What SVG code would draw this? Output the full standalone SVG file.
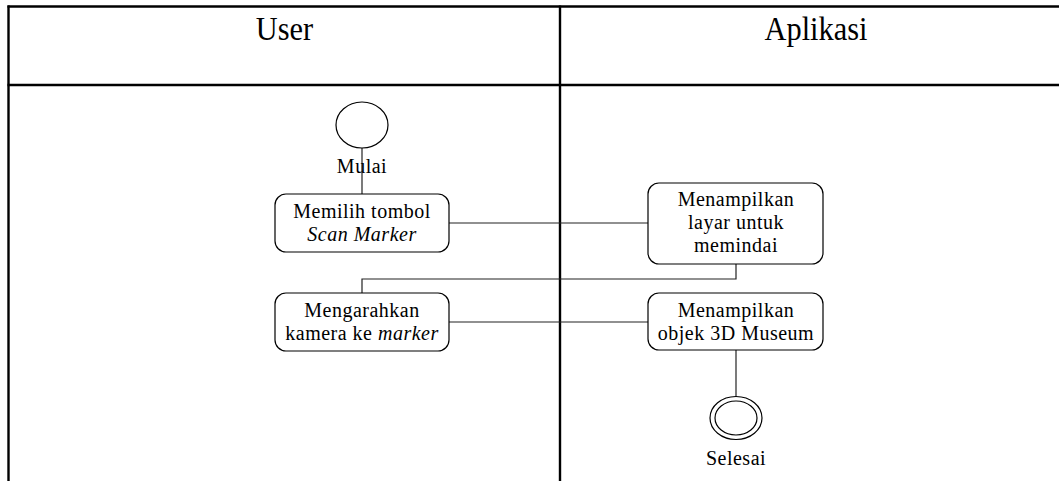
<svg xmlns="http://www.w3.org/2000/svg" width="1059" height="481" viewBox="0 0 1059 481">
<style>
.frame{stroke:#000;stroke-width:2.4;fill:none}
.box{fill:#fff;stroke:#000;stroke-width:1.2}
.conn{stroke:#222;stroke-width:1.2;fill:none}
.t{font-family:"Liberation Serif","Times New Roman",serif;font-size:20px;letter-spacing:0.5px;text-anchor:middle;fill:#000}
.h{font-family:"Liberation Serif","Times New Roman",serif;font-size:33px;text-anchor:middle;fill:#000}
</style>
<rect width="1059" height="481" fill="#fff"/>
<g id="lanes">
<line class="frame" x1="7.5" y1="6.5" x2="1059" y2="6.5"/>
<line class="frame" x1="8.5" y1="5.5" x2="8.5" y2="481"/>
<line class="frame" x1="7.5" y1="85" x2="1059" y2="85"/>
<line class="frame" x1="560" y1="5.5" x2="560" y2="481"/>
<text class="h" transform="translate(284.5,40) scale(0.92,1)">User</text>
<text class="h" transform="translate(816,40) scale(0.92,1)">Aplikasi</text>
</g>
<g id="connectors">
<line class="conn" x1="362" y1="148" x2="362" y2="194"/>
<line class="conn" x1="449" y1="223" x2="648" y2="223"/>
<polyline class="conn" points="736,264 736,279 362,279 362,293"/>
<line class="conn" x1="449" y1="322" x2="648" y2="322"/>
<line class="conn" x1="736" y1="350" x2="736" y2="397"/>
</g>
<g id="start">
<ellipse class="box" cx="362" cy="125" rx="26" ry="23"/>
<text class="t" x="362" y="173">Mulai</text>
</g>
<g id="n1">
<rect class="box" x="275" y="194" width="174" height="58" rx="11"/>
<text class="t" x="362" y="218">Memilih tombol</text>
<text class="t" x="362" y="241" font-style="italic">Scan Marker</text>
</g>
<g id="n2">
<rect class="box" x="648" y="183" width="175" height="81" rx="11"/>
<text class="t" x="736" y="206">Menampilkan</text>
<text class="t" x="736" y="229">layar untuk</text>
<text class="t" x="736" y="252">memindai</text>
</g>
<g id="n3">
<rect class="box" x="275" y="293" width="174" height="58" rx="11"/>
<text class="t" x="362" y="317">Mengarahkan</text>
<text class="t" x="362" y="340">kamera ke <tspan font-style="italic">marker</tspan></text>
</g>
<g id="n4">
<rect class="box" x="648" y="293" width="175" height="57" rx="11"/>
<text class="t" x="736" y="317">Menampilkan</text>
<text class="t" x="736" y="340">objek 3D Museum</text>
</g>
<g id="end">
<ellipse class="box" cx="736" cy="418" rx="26" ry="21.5"/>
<ellipse class="box" cx="736" cy="418" rx="21" ry="17"/>
<text class="t" x="736" y="465">Selesai</text>
</g>
</svg>
